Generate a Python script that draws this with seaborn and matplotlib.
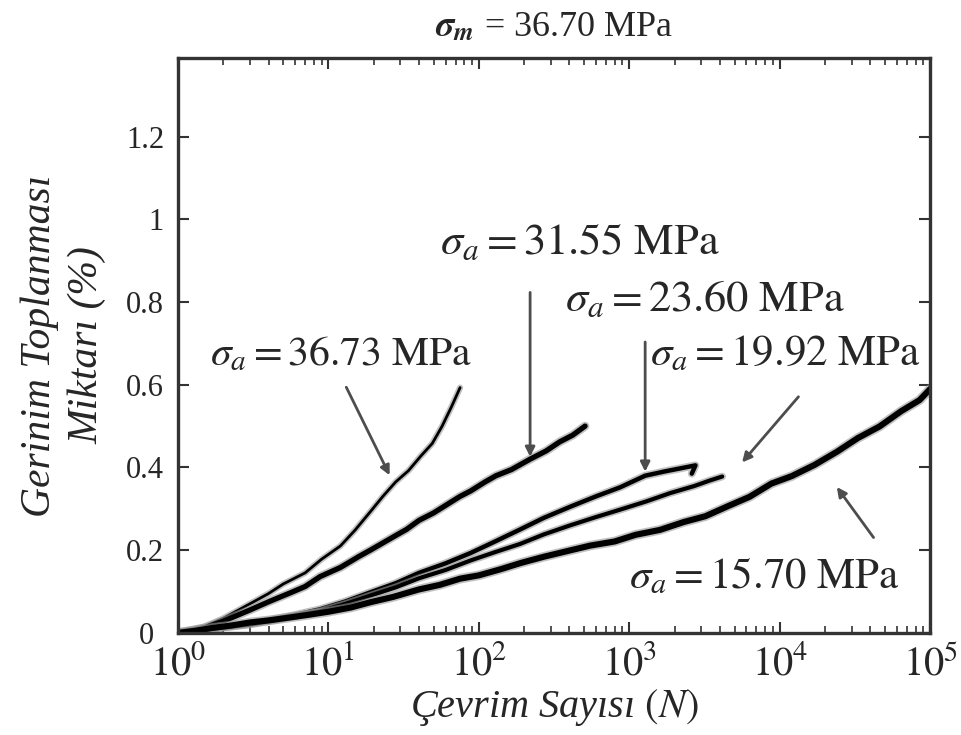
import pandas as pd
import matplotlib
matplotlib.use('Agg')
import matplotlib.pyplot as plt
import matplotlib.patheffects as pe
import matplotlib.transforms as mtrans
import seaborn as sns

# cycle counts N and accumulated strain (%), one pair per amplitude
n_3673 = [1, 1.5, 2, 3, 4, 5, 7, 9, 12, 15, 19, 23, 28, 34, 41, 49, 57, 66, 75]
e_3673 = [0, 0.015, 0.035, 0.07, 0.095, 0.118, 0.145, 0.178, 0.21, 0.248, 0.293, 0.33, 0.365,
          0.392, 0.427, 0.458, 0.50, 0.548, 0.593]

n_3155 = [1, 1.5, 2, 3, 4, 5.6, 7, 8.8, 12, 16, 19, 27, 33, 40, 50, 60, 75, 88, 110, 130, 165,
          219, 280, 345, 420, 508]
e_3155 = [0, 0.012, 0.028, 0.055, 0.075, 0.097, 0.112, 0.136, 0.158, 0.185, 0.2, 0.232, 0.25,
          0.272, 0.29, 0.308, 0.33, 0.343, 0.365, 0.38, 0.395, 0.42, 0.44, 0.462, 0.478, 0.5]

n_2360 = [1, 1.5, 2, 3, 4, 6, 8.8, 13, 19, 28, 40, 60, 88, 130, 188, 270, 405, 600, 870, 1274,
          1700, 2200, 2750, 2600]
e_2360 = [0, 0.008, 0.014, 0.022, 0.03, 0.043, 0.057, 0.076, 0.098, 0.12, 0.145, 0.168, 0.193,
          0.222, 0.25, 0.278, 0.305, 0.33, 0.352, 0.38, 0.39, 0.398, 0.405, 0.385]

n_1992 = [1, 1.5, 2, 3, 4, 6, 8.8, 13, 19, 28, 40, 60, 88, 130, 188, 270, 405, 600, 870, 1300,
          1870, 2700, 3400, 4140]
e_1992 = [0, 0.007, 0.013, 0.02, 0.028, 0.04, 0.052, 0.07, 0.09, 0.11, 0.132, 0.152, 0.175,
          0.196, 0.215, 0.238, 0.26, 0.28, 0.298, 0.318, 0.338, 0.355, 0.368, 0.378]

n_1570 = [1, 1.3, 1.7, 2.2, 3, 4, 5.5, 7.5, 10, 14, 19, 27, 40, 55, 75, 100, 140, 190, 270, 400,
          550, 800, 1100, 1600, 2300, 3200, 4500, 6300, 8800, 12000, 17000, 24000, 33000, 46000,
          64000, 85000, 100000]
e_1570 = [0, 0.005, 0.012, 0.017, 0.025, 0.03, 0.037, 0.044, 0.051, 0.061, 0.074, 0.087, 0.105,
          0.116, 0.131, 0.139, 0.154, 0.169, 0.184, 0.199, 0.211, 0.221, 0.237, 0.249, 0.268,
          0.282, 0.306, 0.329, 0.361, 0.379, 0.406, 0.438, 0.471, 0.499, 0.536, 0.563, 0.59]

series = ['36.73', '31.55', '23.60', '19.92', '15.70']
y_ticks = [0, 0.2, 0.4, 0.6, 0.8, 1, 1.2]
y_tick_labels = ['0', '0.2', '0.4', '0.6', '0.8', '1', '1.2']
x_ticks = [1, 10, 100, 1000, 10000, 100000]
x_tick_labels = ['$10^0$', '$10^1$', '$10^2$', '$10^3$', '$10^4$', '$10^5$']

frames = []
for name, n, e in zip(series, [n_3673, n_3155, n_2360, n_1992, n_1570],
                      [e_3673, e_3155, e_2360, e_1992, e_1570]):
    frames.append(pd.DataFrame({'N': n, 'strain': e, 'amp': name}))
df = pd.concat(frames, ignore_index=True)

sns.set_style('ticks')
plt.rcParams['font.family'] = ['Liberation Serif', 'DejaVu Serif']
plt.rcParams['mathtext.fontset'] = 'stix'

fig = plt.figure(figsize=(9.62, 7.35), dpi=100)
ax = fig.add_axes([0.185, 0.139, 0.782, 0.782])

widths = {'36.73': 2.0, '31.55': 3.8, '23.60': 3.2, '19.92': 3.0, '15.70': 4.4}
for name in series:
    sub = df[df['amp'] == name]
    sns.lineplot(data=sub, x='N', y='strain', ax=ax, color='black', sort=False,
                 estimator=None, lw=widths[name], legend=False,
                 path_effects=[pe.Stroke(linewidth=widths[name] + 2.5, foreground='0.6', alpha=0.6),
                               pe.Normal()])

ax.set_xscale('log')
ax.set_xlim(1, 1e5)
ax.set_ylim(0, 1.39)
ax.set_xticks(x_ticks)
ax.set_xticklabels(x_tick_labels, fontsize=29)
ax.set_yticks(y_ticks)
ax.set_yticklabels(y_tick_labels, fontsize=22)
ax.tick_params(which='both', direction='in', top=True, right=True, color='0.2')
ax.tick_params(which='major', length=8, width=1.5)
ax.tick_params(which='minor', length=5, width=1.2)
ax.tick_params(axis='x', pad=9)
ax.tick_params(axis='y', pad=10)
for s in ax.spines.values():
    s.set_linewidth(2.4)
    s.set_color('0.2')

# the "0" label sits a little further left than the others
zero = ax.get_yticklabels()[0]
zero.set_transform(zero.get_transform() + mtrans.ScaledTranslation(-0.1, 0, fig.dpi_scale_trans))

ax.set_xlabel('Çevrim Sayısı $(N)$', fontsize=29, style='italic', labelpad=2)
ax.set_ylabel('Gerinim Toplanması\nMiktarı (%)', fontsize=30, style='italic', labelpad=14,
              linespacing=1.3)
ax.set_title(r'$\mathbfit{\sigma}_{\mathbfit{m}}$ = 36.70 MPa', fontsize=26, pad=16)

arrow = dict(arrowstyle='-|>', color='0.3', lw=2, mutation_scale=14)
ax.annotate('', xy=(26, 0.375), xytext=(12.9, 0.60), arrowprops=arrow)
ax.text(1.63, 0.673, r'$\sigma_a = 36.73\ \mathrm{MPa}$', fontsize=30, ha='left', va='center')
ax.annotate('', xy=(219, 0.419), xytext=(219, 0.83), arrowprops=arrow)
ax.text(55, 0.944, r'$\sigma_a = 31.55\ \mathrm{MPa}$', fontsize=32, ha='left', va='center')
ax.annotate('', xy=(1274, 0.383), xytext=(1274, 0.71), arrowprops=arrow)
ax.text(374, 0.806, r'$\sigma_a = 23.60\ \mathrm{MPa}$', fontsize=32, ha='left', va='center')
ax.annotate('', xy=(5460, 0.407), xytext=(13680, 0.576), arrowprops=arrow)
ax.text(1370, 0.673, r'$\sigma_a = 19.92\ \mathrm{MPa}$', fontsize=31, ha='left', va='center')
ax.annotate('', xy=(23340, 0.358), xytext=(43060, 0.225), arrowprops=arrow)
ax.text(1000, 0.136, r'$\sigma_a = 15.70\ \mathrm{MPa}$', fontsize=31, ha='left', va='center')

fig.savefig('out.png', dpi=100)
